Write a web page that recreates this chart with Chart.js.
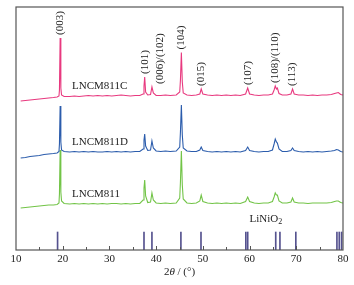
<!DOCTYPE html>
<html>
<head>
<meta charset="utf-8">
<script src="https://cdn.jsdelivr.net/npm/chart.js@4"></script>
<style>
  body { margin: 0; background: #fff; }
</style>
</head>
<body>
<canvas id="xrd" width="354" height="285"></canvas>
<script>
// 2theta grid shared by the three patterns
const twoTheta = [
    11, 12, 13, 14, 15, 16, 17, 18, 18.8, 19.2, 19.3, 19.45, 19.6, 19.75, 20.3,
    21.5, 22.5, 23.5, 24.5, 25.5, 26.5, 27.5, 28.5, 29.5, 30.5, 31.5, 32.5, 33.5, 34.5, 35.5,
    36.5, 37.2, 37.4, 37.55, 37.75, 38.2, 38.8, 39.1, 39.4, 40.0,
    41, 42, 43, 44.3, 45.05, 45.2, 45.4, 45.6, 45.8, 46.6,
    47.6, 48.6, 49.35, 49.65, 50.0, 51, 52, 53, 54, 55,
    56, 57, 58, 59.15, 59.6, 60.0, 61, 62, 63, 64,
    64.9, 65.25, 65.5, 65.75, 65.95, 66.3, 67, 68, 68.85, 69.2,
    69.55, 70.5, 71.5, 72.5, 73.5, 74.5, 75.5, 76.5, 77.5, 78.2,
    78.6, 79.0, 79.5, 80
];

// intensities (a.u., offset stacked)
const lncm811c = [
    149, 149.5, 150, 150.5, 151, 151.5, 152, 152.5, 153, 154, 160, 212, 162, 155, 153.5,
    153.5, 154, 153.5, 154, 154.5, 154, 154.5, 154, 154.5, 154, 154.5, 155, 154.5, 154, 154.5,
    154.5, 156, 164, 173, 158, 155, 155.5, 163, 157, 154.5,
    154.5, 155, 154.5, 155, 158, 170, 197.5, 168, 157, 155,
    154.5, 155, 156, 161, 156, 155, 154.5, 155, 154.5, 155,
    154.5, 155, 154.5, 156, 162, 156, 155, 154.5, 155, 155,
    156, 160, 164, 161, 162, 156.5, 155, 155, 156, 161,
    156, 155, 155, 154.5, 155, 154.5, 155, 155, 155.5, 156.5,
    157, 157.5, 155.5, 155
];
const lncm811d = [
    92, 92.5, 93.5, 94, 94.5, 95.5, 96, 96.5, 97, 98.5, 106, 144, 108, 100, 98.5,
    98, 98.5, 98, 98.5, 98, 98.5, 98, 98, 98.5, 98, 98.5, 98, 98.5, 98, 98.5,
    98.5, 101, 110, 116, 104, 99.5, 100, 109, 102, 99,
    98.5, 99, 98.5, 99, 103, 118, 145, 115, 102, 99,
    98.5, 98.5, 100, 103, 99.5, 98.5, 98, 98.5, 98, 98.5,
    98, 98.5, 98, 99.5, 103, 99.5, 98.5, 98, 98.5, 98.5,
    100, 106, 111, 108, 107, 101, 98.5, 98.5, 99.5, 102,
    99.5, 98.5, 98, 98.5, 98, 98.5, 98, 98.5, 99, 99.5,
    100.5, 100, 98.5, 98
];
const lncm811 = [
    42, 42.5, 43, 43.5, 44, 44.5, 45, 45, 45.5, 47, 56, 100, 58, 49, 46.5,
    46, 46.5, 46, 46.5, 46, 46.5, 46, 46.5, 46, 46.5, 46.5, 46, 46.5, 46, 46.5,
    46.5, 50, 62, 70, 54, 47.5, 48, 57, 50, 47,
    46.5, 47, 46.5, 47, 52, 68, 99, 65, 51, 47,
    46.5, 47, 49, 55, 48.5, 47, 46.5, 47, 46.5, 47,
    46.5, 47, 46.5, 48.5, 53, 48.5, 47, 46.5, 47, 47,
    48.5, 53, 57, 55, 55, 49, 47, 47, 48, 52,
    48, 47, 47, 46.5, 47, 47, 47, 47, 47.5, 48.5,
    49, 49, 47.5, 47
];

// LiNiO2 reference lines
const refAngles = [18.9, 37.4, 39.1, 45.3, 49.6, 59.2, 59.6, 65.6, 66.5, 69.9, 78.7, 79.2, 79.7];
const refIntensity = [18, 18, 18, 18, 18, 18, 18, 18, 18, 18, 18, 18, 18];

// peak indexing (hkl) on the top pattern
const hklLabels = ['(003)', '(101)', '(006)/(102)', '(104)', '(015)', '(107)', '(108)/(110)', '(113)'];
const hklAngles = [19.45, 37.55, 39.1, 45.4, 49.65, 59.6, 65.5, 69.2];

const seriesNames = ['LNCM811C', 'LNCM811D', 'LNCM811'];
const seriesColors = ['#e8397f', '#2b5cac', '#72c447'];
const seriesData = [lncm811c, lncm811d, lncm811];

const SERIF = '"Liberation Serif", "DejaVu Serif", serif';

const decorPlugin = {
    id: 'decor',
    afterDatasetsDraw(chart) {
        const { ctx, chartArea: a, scales: { x, y } } = chart;
        ctx.save();

        // box frame
        ctx.strokeStyle = '#555';
        ctx.lineWidth = 1.2;
        ctx.strokeRect(a.left, a.top, a.right - a.left, a.bottom - a.top);

        // inward ticks
        ctx.lineWidth = 1;
        for (let v = 15; v < 80; v += 5) {
            const px = Math.round(x.getPixelForValue(v)) + 0.5;
            const len = v % 10 === 0 ? 4 : 3;
            ctx.beginPath();
            ctx.moveTo(px, a.bottom);
            ctx.lineTo(px, a.bottom - len);
            ctx.stroke();
        }

        ctx.fillStyle = '#222';
        ctx.font = '11px ' + SERIF;

        // hkl labels, rotated, sitting on top of the peaks
        hklLabels.forEach((txt, k) => {
            let top = 0;
            twoTheta.forEach((t, i) => {
                if (Math.abs(t - hklAngles[k]) <= 0.3) top = Math.max(top, lncm811c[i]);
            });
            let px = x.getPixelForValue(hklAngles[k]);
            if (txt === '(006)/(102)') px += 8;
            const py = y.getPixelForValue(top) - 3;
            ctx.save();
            ctx.translate(px, py);
            ctx.rotate(-Math.PI / 2);
            ctx.textAlign = 'left';
            ctx.textBaseline = 'middle';
            ctx.fillText(txt, 0, 0);
            ctx.restore();
        });

        // series names
        ctx.textAlign = 'left';
        ctx.textBaseline = 'middle';
        seriesNames.forEach((name, k) => {
            const px = x.getPixelForValue(22);
            const py = y.getPixelForValue(seriesData[k][15]) - 10;
            ctx.fillText(name, px, py);
        });

        // LiNiO2 label with subscript
        const lx = x.getPixelForValue(63.5);
        const ly = y.getPixelForValue(refIntensity[0]) - 13;
        const w1 = ctx.measureText('LiNiO').width;
        ctx.font = '8px ' + SERIF;
        const w2 = ctx.measureText('2').width;
        const start = lx - (w1 + w2) / 2;
        ctx.font = '11px ' + SERIF;
        ctx.fillText('LiNiO', start, ly);
        ctx.font = '8px ' + SERIF;
        ctx.fillText('2', start + w1, ly + 3);

        // x axis title: 2θ / (°)
        const ty = 272;
        const cx = (a.left + a.right) / 2;
        ctx.font = '11px ' + SERIF;
        const p1 = '2', p3 = ' / (°)';
        const wa = ctx.measureText(p1).width;
        const wc = ctx.measureText(p3).width;
        ctx.font = 'italic 11px ' + SERIF;
        const wb = ctx.measureText('θ').width;
        let sx = cx - (wa + wb + wc) / 2;
        ctx.font = '11px ' + SERIF;
        ctx.fillText(p1, sx, ty);
        ctx.font = 'italic 11px ' + SERIF;
        ctx.fillText('θ', sx + wa, ty);
        ctx.font = '11px ' + SERIF;
        ctx.fillText(p3, sx + wa + wb, ty);

        ctx.restore();
    }
};

const datasets = seriesData.map((vals, k) => ({
    type: 'line',
    label: seriesNames[k],
    data: twoTheta.map((t, i) => ({ x: t, y: vals[i] })),
    borderColor: seriesColors[k],
    borderWidth: 1.1,
    pointRadius: 0,
    tension: 0,
    fill: false
}));

datasets.push({
    type: 'bar',
    label: 'LiNiO2',
    data: refAngles.map((t, i) => ({ x: t, y: refIntensity[i] })),
    backgroundColor: '#55528f',
    barThickness: 1,
    grouped: false
});

new Chart(document.getElementById('xrd').getContext('2d'), {
    type: 'line',
    data: { datasets: datasets },
    options: {
        responsive: false,
        animation: false,
        layout: {
            padding: { left: 16, right: 11, top: 7, bottom: 0 }
        },
        plugins: {
            legend: { display: false },
            tooltip: { enabled: false }
        },
        scales: {
            x: {
                type: 'linear',
                min: 10,
                max: 80,
                offset: false,
                grid: { display: false, drawTicks: false },
                border: { display: false },
                ticks: {
                    stepSize: 10,
                    padding: 3,
                    color: '#222',
                    font: { family: SERIF, size: 11 }
                },
                afterFit: (scale) => { scale.height = 35; }
            },
            y: {
                display: false,
                min: 0,
                max: 243
            }
        }
    },
    plugins: [decorPlugin]
});
</script>
</body>
</html>
